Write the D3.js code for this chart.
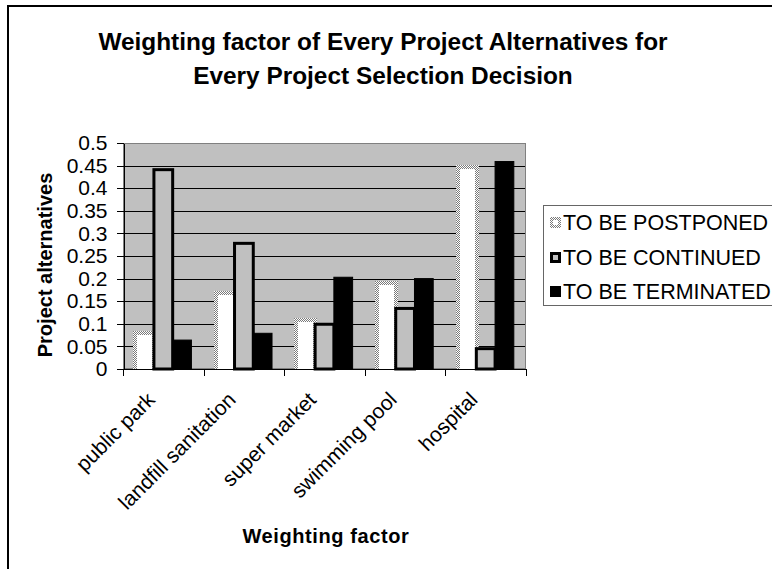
<!DOCTYPE html>
<html>
<head>
<meta charset="utf-8">
<script src="https://cdn.jsdelivr.net/npm/d3@7"></script>
<style>
  html, body { margin: 0; padding: 0; background: #fff; }
  svg { display: block; font-family: Arial, "Liberation Sans", sans-serif; }
</style>
</head>
<body>
<svg id="chart" width="772" height="569"></svg>
<script>
// Project alternatives and their weighting factors per selection decision
const categories = ["public park", "landfill sanitation", "super market", "swimming pool", "hospital"];
const seriesNames = ["TO BE POSTPONED", "TO BE CONTINUED", "TO BE TERMINATED"];
const postponed  = [0.080, 0.168, 0.109, 0.190, 0.446];
const continued  = [0.441, 0.278, 0.099, 0.134, 0.045];
const terminated = [0.064, 0.079, 0.203, 0.200, 0.459];
const yTickLabels = ["0", "0.05", "0.1", "0.15", "0.2", "0.25", "0.3", "0.35", "0.4", "0.45", "0.5"];
const titleLines = ["Weighting factor of Every Project Alternatives for", "Every Project Selection Decision"];
const xTitle = "Weighting factor";
const yTitle = "Project alternatives";

const seriesValues = [postponed, continued, terminated];

const svg = d3.select("#chart");

// dithered grey used for the "postponed" bar outline
const defs = svg.append("defs");
const pat = defs.append("pattern")
  .attr("id", "dither").attr("width", 2).attr("height", 2)
  .attr("patternUnits", "userSpaceOnUse");
pat.append("rect").attr("width", 2).attr("height", 2).attr("fill", "#ffffff");
pat.append("rect").attr("x", 0).attr("y", 0).attr("width", 1).attr("height", 1).attr("fill", "#7a7a7a");
pat.append("rect").attr("x", 1).attr("y", 1).attr("width", 1).attr("height", 1).attr("fill", "#7a7a7a");

// chart frame
svg.append("rect")
  .attr("x", 8).attr("y", 6).attr("width", 800).attr("height", 600)
  .attr("fill", "#fff").attr("stroke", "#000").attr("stroke-width", 2);

// plot geometry
const plotL = 123, plotR = 526, plotT = 143, plotB = 369;

const x = d3.scaleBand().domain(categories).range([plotL, plotR]).padding(0);
const xs = d3.scaleBand().domain(seriesNames).range([0, x.bandwidth()]).paddingInner(0).paddingOuter(0.65);
const y = d3.scaleLinear().domain([0, 0.5]).range([plotB, plotT]);

// plot background
svg.append("rect")
  .attr("x", plotL).attr("y", plotT)
  .attr("width", plotR - plotL).attr("height", plotB - plotT)
  .attr("fill", "#c0c0c0");

// gridlines
svg.append("g").selectAll("line")
  .data(yTickLabels.slice(1, -1))
  .join("line")
  .attr("x1", plotL).attr("x2", plotR)
  .attr("y1", d => Math.round(y(+d)) + 0.5).attr("y2", d => Math.round(y(+d)) + 0.5)
  .attr("stroke", "#000").attr("stroke-width", 1)
  .attr("shape-rendering", "crispEdges");

// plot border
svg.append("rect")
  .attr("x", plotL + 0.5).attr("y", plotT + 0.5)
  .attr("width", plotR - plotL - 1).attr("height", plotB - plotT - 1)
  .attr("fill", "none").attr("stroke", "#808080").attr("stroke-width", 1)
  .attr("shape-rendering", "crispEdges");

const barData = si => categories.map((c, i) => ({ c, v: seriesValues[si][i] }));
const bw = xs.bandwidth();

// postponed: dithered outline around a white core
const gP = svg.append("g");
const pb = 2; // half outline width
gP.selectAll("rect.outer")
  .data(barData(0)).join("rect").attr("class", "outer")
  .attr("x", d => Math.round(x(d.c) + xs(seriesNames[0]) - pb))
  .attr("y", d => Math.round(y(d.v) - pb))
  .attr("width", Math.round(bw + 2 * pb))
  .attr("height", d => Math.round(y(0)) - Math.round(y(d.v) - pb))
  .attr("fill", "url(#dither)")
  .attr("shape-rendering", "crispEdges");
gP.selectAll("rect.inner")
  .data(barData(0)).join("rect").attr("class", "inner")
  .attr("x", d => Math.round(x(d.c) + xs(seriesNames[0]) - pb) + 2 * pb)
  .attr("y", d => Math.round(y(d.v) - pb) + 2 * pb)
  .attr("width", Math.round(bw + 2 * pb) - 4 * pb)
  .attr("height", d => Math.max(0, Math.round(y(0)) - Math.round(y(d.v) - pb) - 2 * pb))
  .attr("fill", "#ffffff")
  .attr("shape-rendering", "crispEdges");

// continued: grey with heavy black outline
svg.append("g").selectAll("rect")
  .data(barData(1)).join("rect")
  .attr("x", d => x(d.c) + xs(seriesNames[1]))
  .attr("y", d => y(d.v))
  .attr("width", bw)
  .attr("height", d => y(0) - y(d.v))
  .attr("fill", "#c0c0c0")
  .attr("stroke", "#000").attr("stroke-width", 3);

// terminated: solid black
svg.append("g").selectAll("rect")
  .data(barData(2)).join("rect")
  .attr("x", d => x(d.c) + xs(seriesNames[2]))
  .attr("y", d => y(d.v))
  .attr("width", bw)
  .attr("height", d => y(0) - y(d.v))
  .attr("fill", "#000")
  .attr("stroke", "#000").attr("stroke-width", 1);

// y axis
const yAxis = d3.axisLeft(y)
  .tickValues(yTickLabels.map(Number))
  .tickFormat((d, i) => yTickLabels[i])
  .tickSizeInner(7).tickSizeOuter(0).tickPadding(9);
const gy = svg.append("g").attr("transform", `translate(${plotL + 0.5},0)`).call(yAxis);
gy.select(".domain").attr("stroke", "#000").attr("shape-rendering", "crispEdges");
gy.selectAll(".tick line").attr("stroke", "#000").attr("shape-rendering", "crispEdges");
gy.selectAll(".tick text")
  .attr("font-size", 21).attr("fill", "#000")
  .attr("font-family", "Arial, 'Liberation Sans', sans-serif");

// x axis line and boundary ticks
const gx = svg.append("g");
gx.append("line")
  .attr("x1", plotL).attr("x2", plotR)
  .attr("y1", plotB + 0.5).attr("y2", plotB + 0.5)
  .attr("stroke", "#000").attr("shape-rendering", "crispEdges");
const bounds = categories.map(c => x(c)).concat([x(categories[categories.length - 1]) + x.bandwidth()]);
gx.selectAll("line.tk")
  .data(bounds)
  .join("line").attr("class", "tk")
  .attr("x1", d => Math.round(d) + 0.5).attr("x2", d => Math.round(d) + 0.5)
  .attr("y1", plotB).attr("y2", plotB + 7)
  .attr("stroke", "#000").attr("shape-rendering", "crispEdges");

// rotated category labels
gx.selectAll("text")
  .data(categories)
  .join("text")
  .attr("transform", d => `translate(${x(d) + x.bandwidth() / 2 - 7},401) rotate(-45)`)
  .attr("text-anchor", "end")
  .attr("font-size", 21)
  .attr("fill", "#000")
  .text(d => d);

// title
svg.append("text")
  .attr("x", 383).attr("y", 49.5)
  .attr("text-anchor", "middle")
  .attr("font-size", 24.4).attr("font-weight", "bold")
  .selectAll("tspan")
  .data(titleLines)
  .join("tspan")
  .attr("x", 383)
  .attr("dy", (d, i) => i === 0 ? 0 : 34)
  .text(d => d);

// axis titles
svg.append("text")
  .attr("x", 326).attr("y", 543)
  .attr("text-anchor", "middle")
  .attr("font-size", 20).attr("font-weight", "bold")
  .attr("letter-spacing", 0.6)
  .text(xTitle);

svg.append("text")
  .attr("transform", "translate(52,265) rotate(-90)")
  .attr("text-anchor", "middle")
  .attr("font-size", 20).attr("font-weight", "bold")
  .text(yTitle);

// legend
const lg = svg.append("g");
lg.append("rect")
  .attr("x", 543.5).attr("y", 205.5).attr("width", 260).attr("height", 100)
  .attr("fill", "#fff").attr("stroke", "#666").attr("stroke-width", 1)
  .attr("shape-rendering", "crispEdges");
const rowY = d3.scalePoint().domain(seriesNames).range([222, 291]);
const items = lg.selectAll("g.item")
  .data(seriesNames)
  .join("g").attr("class", "item")
  .attr("transform", d => `translate(0,${Math.round(rowY(d))})`);
// postponed swatch
items.filter((d, i) => i === 0).append("rect")
  .attr("x", 550).attr("y", -5).attr("width", 11).attr("height", 11)
  .attr("fill", "url(#dither)").attr("shape-rendering", "crispEdges");
items.filter((d, i) => i === 0).append("rect")
  .attr("x", 553).attr("y", -2).attr("width", 5).attr("height", 5)
  .attr("fill", "#fff").attr("shape-rendering", "crispEdges");
// continued swatch
items.filter((d, i) => i === 1).append("rect")
  .attr("x", 551.5).attr("y", -3.5).attr("width", 8).attr("height", 8)
  .attr("fill", "#c0c0c0").attr("stroke", "#000").attr("stroke-width", 3);
// terminated swatch
items.filter((d, i) => i === 2).append("rect")
  .attr("x", 550).attr("y", -5).attr("width", 11).attr("height", 11)
  .attr("fill", "#000");
items.append("text")
  .attr("x", 563).attr("y", 7.5)
  .attr("font-size", 21.5).attr("fill", "#000")
  .text(d => d);
</script>
</body>
</html>
